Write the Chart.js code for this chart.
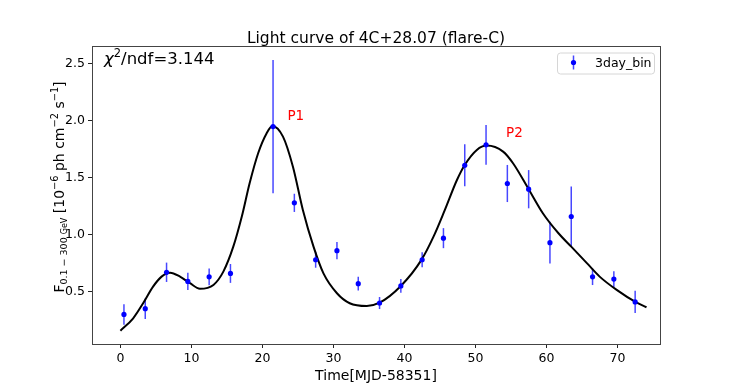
<!DOCTYPE html>
<html>
<head>
<meta charset="utf-8">
<script src="https://cdn.jsdelivr.net/npm/chart.js@4.4.0/dist/chart.umd.min.js"></script>
<style>
  html, body { margin: 0; padding: 0; background: #fff; }
  #wrap { width: 734px; height: 387px; position: relative; }
</style>
</head>
<body>
<div id="wrap"><canvas id="lc"></canvas></div>
<script>
// 3-day binned light curve (MJD - 58351)
const binTime = [0.5, 3.5, 6.5, 9.5, 12.5, 15.5, 21.5, 24.5, 27.5, 30.5, 33.5, 36.5,
  39.5, 42.5, 45.5, 48.5, 51.5, 54.5, 57.5, 60.5, 63.5, 66.5, 69.5, 72.5];
const binFlux = [0.30, 0.35, 0.67, 0.59, 0.63, 0.66, 1.95, 1.28, 0.78, 0.86, 0.57, 0.40,
  0.55, 0.78, 0.97, 1.61, 1.79, 1.45, 1.40, 0.93, 1.16, 0.63, 0.61, 0.41];
const binErr = [0.09, 0.09, 0.085, 0.075, 0.073, 0.083, 0.585, 0.08, 0.07, 0.076, 0.06, 0.053,
  0.06, 0.066, 0.088, 0.185, 0.175, 0.163, 0.168, 0.183, 0.264, 0.072, 0.07, 0.098];

// fitted curve
const fitTime = [0, 1.8, 3.2, 4.6, 5.8, 7, 8.4, 9.8, 11.2, 13.1, 14.5, 15.9, 17.1, 18.2,
  19.4, 20.6, 21.4, 22.9, 24.3, 25.7, 27.2, 28.6, 30.5, 32.3, 34.7, 36.5, 39.5, 42.4, 44.1,
  45.7, 47.4, 48.5, 50.2, 51.6, 53.9, 55.3, 57.5, 59.5, 61.7, 63.5, 65.7, 67.5, 69.9, 72.6, 74.1];
const fitFlux = [0.157, 0.266, 0.398, 0.544, 0.632, 0.667, 0.632, 0.574, 0.525, 0.559, 0.676,
  0.895, 1.16, 1.452, 1.716, 1.892, 1.956, 1.862, 1.598, 1.218, 0.895, 0.66, 0.486, 0.398,
  0.374, 0.403, 0.55, 0.779, 0.983, 1.218, 1.481, 1.613, 1.745, 1.783, 1.73, 1.628, 1.4,
  1.189, 1.013, 0.895, 0.75, 0.632, 0.515, 0.407, 0.363];

const xTickValues = [0, 10, 20, 30, 40, 50, 60, 70];
const yTickValues = [0.5, 1.0, 1.5, 2.0, 2.5];

const peakLabels = ["P1", "P2"];
const peakAt = [[24.7, 2.035], [55.5, 1.89]];

const FONT = "'DejaVu Sans', sans-serif";

function richText(ctx, parts, x, y, align) {
  let total = 0;
  parts.forEach(function (p) {
    ctx.font = (p.italic ? "italic " : "") + p.size + "px " + FONT;
    p.w = ctx.measureText(p.t).width;
    total += p.w;
  });
  let cx = align === "center" ? x - total / 2 : x;
  parts.forEach(function (p) {
    ctx.font = (p.italic ? "italic " : "") + p.size + "px " + FONT;
    ctx.fillText(p.t, cx, y + (p.dy || 0));
    cx += p.w;
  });
}

const decorations = {
  id: "decorations",
  beforeDatasetsDraw(chart) {
    const ctx = chart.ctx;
    const xs = chart.scales.x, ys = chart.scales.y;
    ctx.save();
    ctx.strokeStyle = "rgba(0,0,255,0.72)";
    ctx.lineWidth = 1.5;
    binTime.forEach(function (t, i) {
      const px = xs.getPixelForValue(t);
      ctx.beginPath();
      ctx.moveTo(px, ys.getPixelForValue(binFlux[i] - binErr[i]));
      ctx.lineTo(px, ys.getPixelForValue(binFlux[i] + binErr[i]));
      ctx.stroke();
    });
    ctx.restore();
  },
  afterDraw(chart) {
    const ctx = chart.ctx;
    const a = chart.chartArea;
    const xs = chart.scales.x, ys = chart.scales.y;
    ctx.save();

    // frame
    ctx.strokeStyle = "#444";
    ctx.lineWidth = 1;
    ctx.strokeRect(Math.round(a.left) + 0.5, Math.round(a.top) + 0.5,
      Math.round(a.right - a.left), Math.round(a.bottom - a.top));

    ctx.fillStyle = "#000";
    ctx.textBaseline = "alphabetic";

    // title
    ctx.textAlign = "center";
    ctx.font = "15.5px " + FONT;
    ctx.fillText("Light curve of 4C+28.07 (flare-C)", (a.left + a.right) / 2, 43);

    // chi2
    ctx.textAlign = "left";
    richText(ctx, [
      { t: "\u03c7", size: 16.5, italic: true },
      { t: "2", size: 11.5, dy: -7 },
      { t: "/ndf=3.144", size: 16.5 }
    ], 104, 64);

    // x label
    ctx.textAlign = "center";
    ctx.font = "14px " + FONT;
    ctx.fillText("Time[MJD-58351]", (a.left + a.right) / 2, 380);

    // y label
    ctx.save();
    ctx.translate(63.5, 187);
    ctx.rotate(-Math.PI / 2);
    ctx.textAlign = "left";
    richText(ctx, [
      { t: "F", size: 14 },
      { t: "0.1 \u2212 300 ", size: 9.5, dy: 3 },
      { t: "GeV", size: 8, dy: 3 },
      { t: " [10", size: 14 },
      { t: "\u22126", size: 9.8, dy: -6 },
      { t: " ph cm", size: 14 },
      { t: "\u22122", size: 9.8, dy: -6 },
      { t: " s", size: 14 },
      { t: "\u22121", size: 9.8, dy: -6 },
      { t: "]", size: 14 }
    ], 0, 0, "center");
    ctx.restore();

    // peak labels
    ctx.fillStyle = "#ff0000";
    ctx.textAlign = "center";
    ctx.textBaseline = "middle";
    ctx.font = "13.5px " + FONT;
    peakLabels.forEach(function (lbl, i) {
      ctx.fillText(lbl, xs.getPixelForValue(peakAt[i][0]), ys.getPixelForValue(peakAt[i][1]));
    });

    // legend
    const lx = 557, ly = 52.5, lw = 97, lh = 21;
    ctx.beginPath();
    ctx.roundRect(lx + 0.5, ly + 0.5, lw, lh, 3);
    ctx.fillStyle = "rgba(255,255,255,0.8)";
    ctx.fill();
    ctx.strokeStyle = "#d6d6d6";
    ctx.lineWidth = 1;
    ctx.stroke();
    ctx.strokeStyle = "rgba(0,0,255,0.72)";
    ctx.lineWidth = 1.5;
    ctx.beginPath();
    ctx.moveTo(573.5, 55.5);
    ctx.lineTo(573.5, 69.5);
    ctx.stroke();
    ctx.fillStyle = "#0000ff";
    ctx.beginPath();
    ctx.arc(573.5, 62.5, 2.6, 0, Math.PI * 2);
    ctx.fill();
    ctx.fillStyle = "#000";
    ctx.textAlign = "left";
    ctx.textBaseline = "alphabetic";
    ctx.font = "12.5px " + FONT;
    ctx.fillText("3day_bin", 595, 66.5);

    ctx.restore();
  }
};

const pointData = binTime.map((t, i) => ({ x: t, y: binFlux[i] }));
const curveData = fitTime.map((t, i) => ({ x: t, y: fitFlux[i] }));

new Chart(document.getElementById("lc"), {
  type: "scatter",
  data: {
    datasets: [
      {
        label: "3day_bin",
        data: pointData,
        pointRadius: 2.6,
        pointBackgroundColor: "#0000ff",
        pointBorderWidth: 0,
        showLine: false,
        order: 1
      },
      {
        label: "fit",
        type: "line",
        data: curveData,
        borderColor: "#000",
        borderWidth: 2,
        pointRadius: 0,
        cubicInterpolationMode: "monotone",
        fill: false,
        order: 2
      }
    ]
  },
  options: {
    responsive: true,
    maintainAspectRatio: false,
    animation: false,
    devicePixelRatio: 1,
    layout: { padding: { top: 46, right: 74, left: 0, bottom: 0 } },
    plugins: {
      legend: { display: false },
      tooltip: { enabled: false },
      title: { display: false }
    },
    scales: {
      x: {
        type: "linear",
        min: -4,
        max: 76,
        afterFit: function (s) { s.height = 43; },
        afterBuildTicks: function (s) { s.ticks = xTickValues.map(v => ({ value: v })); },
        grid: { drawOnChartArea: false, drawTicks: true, tickLength: 4, tickColor: "#222" },
        border: { display: false },
        ticks: {
          autoSkip: false,
          maxRotation: 0,
          padding: 3,
          color: "#000",
          font: { family: FONT, size: 12.5 }
        }
      },
      y: {
        type: "linear",
        min: 0.04,
        max: 2.658,
        afterFit: function (s) { s.width = 92; },
        afterBuildTicks: function (s) { s.ticks = yTickValues.map(v => ({ value: v })); },
        grid: { drawOnChartArea: false, drawTicks: true, tickLength: 4, tickColor: "#222" },
        border: { display: false },
        ticks: {
          autoSkip: false,
          padding: 3,
          color: "#000",
          font: { family: FONT, size: 12.5 },
          callback: function (v) { return v.toFixed(1); }
        }
      }
    }
  },
  plugins: [decorations]
});
</script>
</body>
</html>
